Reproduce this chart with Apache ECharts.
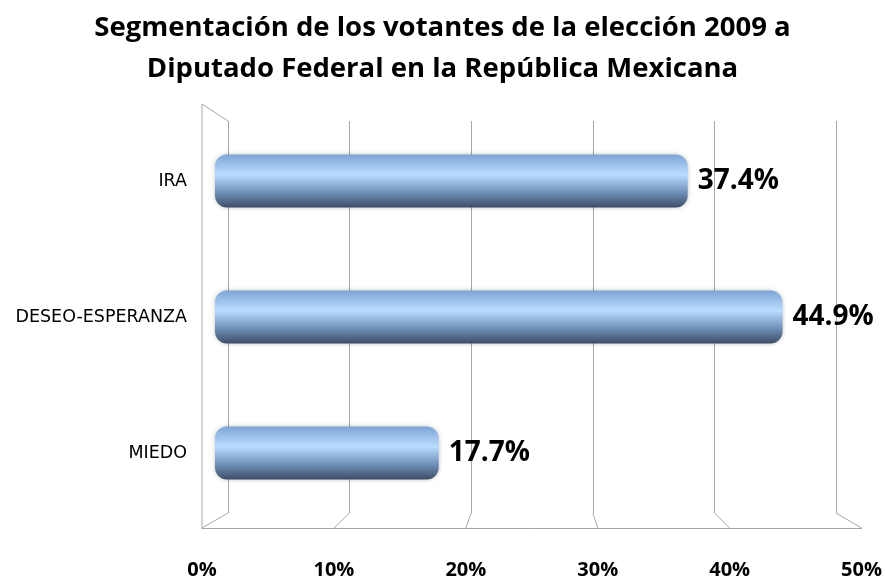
<!DOCTYPE html>
<html>
<head>
<meta charset="utf-8">
<script src="https://cdn.jsdelivr.net/npm/echarts@6/dist/echarts.min.js"></script>
<style>
  html, body { margin: 0; padding: 0; background: #fff; }
  #chart { width: 885px; height: 580px; }
</style>
</head>
<body>
<div id="chart"></div>
<script>
// data
var categories = ['IRA', 'DESEO-ESPERANZA', 'MIEDO']
var votantes = [37.4, 44.9, 17.7]
var ticks = [0, 10, 20, 30, 40, 50]

var chart = echarts.init(document.getElementById('chart'))

var barColor = new echarts.graphic.LinearGradient(0, 0, 0, 1, [
  { offset: 0, color: '#7ea4d6' },
  { offset: 0.38, color: '#b9dcff' },
  { offset: 0.7, color: '#7393bd' },
  { offset: 1, color: '#3b4d66' }
])

chart.setOption({
  animation: false,
  title: {
    text: 'Segmentación de los votantes de la elección 2009 a\nDiputado Federal en la República Mexicana',
    left: 'center',
    top: 3,
    textStyle: {
      fontFamily: 'Open Sans',
      fontWeight: 'bold',
      fontSize: 27.5,
      lineHeight: 41,
      color: '#000'
    }
  },
  grid: [
    // back wall
    { left: 228, right: 49, top: 121, bottom: 67 },
    // front edge (floor front)
    { left: 202, right: 23, top: 104, bottom: 52 },
    // bars, mid depth
    { left: 215, right: 38, top: 113, bottom: 59 }
  ],
  xAxis: [{
    gridIndex: 0,
    type: 'value',
    min: 0,
    max: 50,
    interval: 10,
    axisLine: { show: false },
    axisTick: { show: false },
    axisLabel: { show: false },
    splitLine: { show: true, lineStyle: { color: '#a6a6a6', width: 1 } }
  }, {
    gridIndex: 1,
    type: 'value',
    min: 0,
    max: 50,
    interval: 10,
    axisLine: { show: true, lineStyle: { color: '#a6a6a6', width: 1 } },
    axisTick: { show: false },
    splitLine: { show: false },
    axisLabel: {
      margin: 32,
      formatter: '{value}%',
      fontFamily: 'Open Sans',
      fontWeight: 'bold',
      fontSize: 20,
      color: '#000'
    }
  }, {
    gridIndex: 2,
    type: 'value',
    min: 0,
    max: 50,
    show: false
  }],
  yAxis: [{
    gridIndex: 0,
    type: 'value',
    min: 0,
    max: 1,
    show: false
  }, {
    gridIndex: 1,
    type: 'value',
    min: 0,
    max: 1,
    show: false
  }, {
    gridIndex: 2,
    type: 'category',
    inverse: true,
    data: categories,
    axisLine: { show: false },
    axisTick: { show: false },
    axisLabel: {
      margin: 28,
      fontFamily: 'DejaVu Sans',
      fontSize: 17.5,
      color: '#000'
    }
  }],
  series: [{
    type: 'bar',
    xAxisIndex: 2,
    yAxisIndex: 2,
    data: votantes,
    barWidth: 53,
    itemStyle: {
      color: barColor,
      borderRadius: 12,
      shadowColor: 'rgba(0,0,0,0.25)',
      shadowBlur: 4,
      shadowOffsetX: 0
    },
    label: {
      show: true,
      position: 'right',
      distance: 10,
      formatter: '{c}%',
      fontFamily: 'Open Sans',
      fontWeight: 'bold',
      fontSize: 28,
      color: '#000'
    }
  }]
})

// perspective lines joining back wall and front edge at each tick
function drawWalls() {
  var lineStyle = { stroke: '#a6a6a6', lineWidth: 1 }
  var els = []
  ticks.forEach(function (v) {
    var backBottom = chart.convertToPixel({ gridIndex: 0 }, [v, 0])
    var frontBottom = chart.convertToPixel({ gridIndex: 1 }, [v, 0])
    els.push({
      type: 'line',
      silent: true,
      shape: { x1: backBottom[0], y1: backBottom[1], x2: frontBottom[0], y2: frontBottom[1] },
      style: lineStyle
    })
  })
  // left side wall
  var backTop = chart.convertToPixel({ gridIndex: 0 }, [0, 1])
  var frontTop = chart.convertToPixel({ gridIndex: 1 }, [0, 1])
  var frontBot = chart.convertToPixel({ gridIndex: 1 }, [0, 0])
  els.push({
    type: 'polyline',
    silent: true,
    shape: { points: [backTop, frontTop, frontBot] },
    style: lineStyle
  })
  chart.setOption({ graphic: els })
}
drawWalls()
</script>
</body>
</html>
